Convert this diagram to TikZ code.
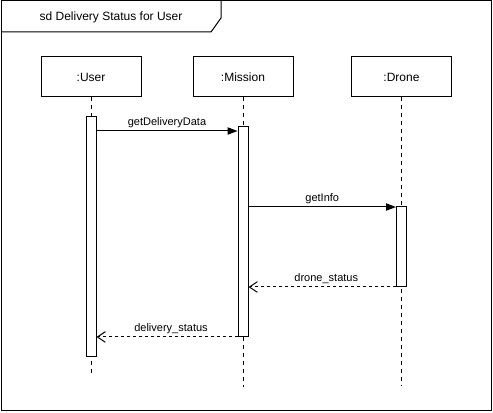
\documentclass[tikz,border=0pt]{standalone}
\usepackage{fontspec}
\setmainfont{Liberation Sans}
\usetikzlibrary{arrows.meta}

\tikzset{
  objbox/.style={draw, line width=0.75, minimum width=75pt, minimum height=30pt, inner sep=0, font=\fontsize{9pt}{11pt}\selectfont},
  actbox/.style={draw, fill=white, line width=0.75, minimum width=7.5pt, inner sep=0},
  lifeline/.style={line width=0.75, dash pattern={on 3pt off 3pt}},
  call/.style={line width=0.75, -{Triangle[length=7.5pt, width=5.5pt]}},
  reply/.style={line width=0.75, dash pattern={on 2.25pt off 2.25pt}, -{Straight Barb[length=6pt, width=8pt]}},
  msglabel/.style={font=\fontsize{8.25pt}{10pt}\selectfont, inner sep=0, yshift=2pt}
}

\begin{document}
\begin{tikzpicture}[x=0.75pt,y=0.75pt,yscale=-1,xscale=1]
\useasboundingbox (0,0) rectangle (493,413);

%Shape: Frame
\draw [line width=0.75] (1,1) rectangle (491,411);
\draw [line width=0.75] (1,32) -- (211,32) -- (221,18) -- (221,1);
% Text Node
\node (title) [font=\fontsize{9pt}{11pt}\selectfont] at (111,17) {sd Delivery Status for User};

%Shape: Objects
\node (user) [objbox] at (91,77) {:User};
\node (mission) [objbox] at (243,77) {:Mission};
\node (drone) [objbox] at (401.5,77) {:Drone};

%Straight Lines: lifelines
\coordinate (userend) at (91,376);
\coordinate (missionend) at (243,387);
\coordinate (droneend) at (401.5,386);
\draw [lifeline] (user.south) -- (userend);
\draw [lifeline] (mission.south) -- (missionend);
\draw [lifeline] (drone.south) -- (droneend);

%Shape: Activations
\node (useract) [actbox, minimum height=180pt, anchor=north] at (91,116) {};
\node (missionact) [actbox, minimum height=157.5pt, anchor=north] at (243,126) {};
\node (droneact) [actbox, minimum height=60pt, anchor=north] at (401.5,206) {};

%Straight Lines: messages
\draw [call] (useract.east |- 0,131) -- (missionact.west |- 0,131) node [midway, above, msglabel] {getDeliveryData};
\draw [call] (missionact.east |- 0,207) -- (droneact.west |- 0,207) node [midway, above, msglabel] {getInfo};
\draw [reply] (droneact.south west) -- (missionact.east |- droneact.south west) node [midway, above, msglabel, xshift=3pt] {drone\_status};
\draw [reply] (missionact.south west) -- (useract.east |- missionact.south west) node [midway, above, msglabel, xshift=3pt] {delivery\_status};

\end{tikzpicture}
\end{document}
